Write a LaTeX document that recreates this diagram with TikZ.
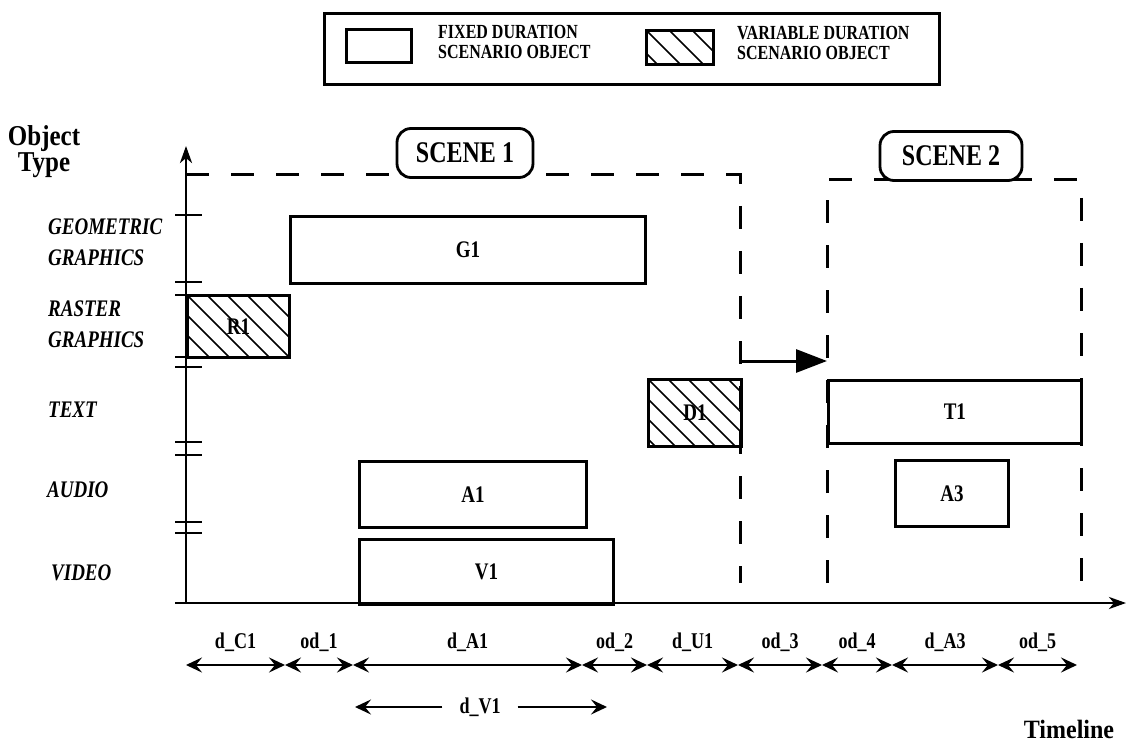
\documentclass[tikz,border=0pt]{standalone}
\usepackage{fontspec}
\setmainfont{Liberation Serif}
\usetikzlibrary{arrows.meta,calc}
\newcommand{\myfs}[2]{\fontsize{#1}{#2}\selectfont}
\newcommand{\tall}[1]{\scalebox{1}[1.25]{#1}}
\newcommand{\tallii}[2]{\scalebox{1}[1.25]{\begin{tabular}{@{}l@{}}#1\\#2\end{tabular}}}
\begin{document}
\begin{tikzpicture}[x=1pt,y=-1pt,
  obj/.style={draw, line width=2.8pt, inner sep=0pt, anchor=north west, font=\bfseries\myfs{19}{19}},
  hatched/.style={obj, path picture={
      \foreach \k in {-7,...,8}{
        \draw[line width=1.6pt] ([xshift=\k*20pt]path picture bounding box.north west) -- ++(110pt,-110pt);
      }}},
  lhatched/.style={obj, path picture={
      \foreach \k in {-4,...,4}{
        \draw[line width=1.6pt] ([xshift=\k*23pt]path picture bounding box.north west) -- ++(60pt,-60pt);
      }}},
  scenelabel/.style={draw, line width=2.8pt, rounded corners=14pt, fill=white, minimum height=49pt, font=\bfseries\myfs{24}{24}},
  dashframe/.style={line width=3pt, dash pattern=on 23pt off 22pt},
  axis/.style={line width=2.8pt, -{Stealth[length=17pt,width=12pt,inset=5pt]}},
  tick/.style={line width=2.8pt},
  dim/.style={line width=2.8pt, {Stealth[length=16pt,width=15pt,inset=6pt]}-{Stealth[length=16pt,width=15pt,inset=6pt]}},
  sarrow/.style={line width=2.8pt, -{Stealth[length=16pt,width=15pt,inset=6pt]}},
  bigarrow/.style={line width=3pt, -{Triangle[length=31pt,width=23pt]}},
  dimlabel/.style={font=\bfseries\myfs{18}{18}, inner sep=1pt},
  typelabel/.style={anchor=west, align=left, inner sep=0pt, font=\bfseries\itshape\myfs{19}{25}},
  legtext/.style={anchor=west, align=left, inner sep=0pt, font=\bfseries\myfs{16}{16}}
]
\useasboundingbox (0,0) rectangle (1127,743);

% legend
\node[draw, line width=2.8pt, anchor=north west, minimum width=615pt, minimum height=71pt, inner sep=0pt] (legend) at (323,12) {};
\node[obj, minimum width=65pt, minimum height=33pt] (legfix) at (345,28) {};
\node[legtext] (legfixtxt) at (438,45) {\tallii{FIXED DURATION}{SCENARIO OBJECT}};
\node[lhatched, minimum width=67pt, minimum height=34pt] (legvar) at (645,29) {};
\node[legtext] (legvartxt) at (737,46) {\tallii{VARIABLE DURATION}{SCENARIO OBJECT}};

% axis title and type labels
\node[align=center, inner sep=0pt, font=\bfseries\myfs{25}{21}] (otype) at (44,152) {\scalebox{1}[1.15]{\begin{tabular}{@{}c@{}}Object\\Type\end{tabular}}};
\node[typelabel] (lgeo) at (48,244) {\tallii{GEOMETRIC}{GRAPHICS}};
\node[typelabel] (lras) at (48,326) {\tallii{RASTER}{GRAPHICS}};
\node[typelabel] (ltext) at (48,410) {\tall{TEXT}};
\node[typelabel] (laudio) at (47,490) {\tall{AUDIO}};
\node[typelabel] (lvideo) at (51,573) {\tall{VIDEO}};

% scene frames
\draw[dashframe] (186,175) -- (740,175) -- (740,583);
\draw[dashframe] (827,583) -- (827,180) -- (1081,180) -- (1081,583);
\node[scenelabel, minimum width=136pt] (scene1) at (465,153) {\tall{SCENE 1}};
\node[scenelabel, minimum width=142pt] (scene2) at (951,156) {\tall{SCENE 2}};

% axes
\coordinate (O) at (186,603);
\coordinate (ytop) at (186,146);
\coordinate (xstart) at (175,603);
\coordinate (xend) at (1126,603);
\draw[axis] (O) -- (ytop);
\draw[axis] (xstart) -- (xend);
\foreach \yy in {215,282,295,357,367,442,455,522,533}
  \draw[tick] (175,\yy) -- (202,\yy);

% objects
\node[obj, minimum width=355pt, minimum height=67pt] (G1) at (289,215) {\tall{G1}};
\node[hatched, minimum width=102pt, minimum height=62pt] (R1) at (186,294) {\tall{R1}};
\node[hatched, minimum width=93pt, minimum height=67pt] (D1) at (647,378) {\tall{D1}};
\node[obj, minimum width=253pt, minimum height=63pt] (T1) at (827,379) {\tall{T1}};
\node[obj, minimum width=227pt, minimum height=66pt] (A1) at (358,460) {\tall{A1}};
\node[obj, minimum width=113pt, minimum height=66pt] (A3) at (894,459) {\tall{A3}};
\node[obj, minimum width=254pt, minimum height=65pt] (V1) at (358,538) {\tall{V1}};

% scene transition arrow
\coordinate (s1r) at (740,361);
\coordinate (s2l) at (827,361);
\draw[bigarrow] (s1r) -- (s2l);

% duration arrows
\foreach \n/\xx in {0/186,1/285,2/353,3/582,4/647,5/738,6/822,7/892,8/998,9/1077}
  \coordinate (d\n) at (\xx,665);
\foreach \a/\b/\t in {0/1/d\_C1,1/2/od\_1,2/3/d\_A1,3/4/od\_2,4/5/d\_U1,5/6/od\_3,6/7/od\_4,7/8/d\_A3,8/9/od\_5}
  \draw[dim] (d\a) -- node[dimlabel, midway, yshift=23pt] (L\a) {\tall{\t}} (d\b);

% d_V1
\node[dimlabel] (dV1) at (480,707) {\tall{d\_V1}};
\coordinate (v0) at (355,707);
\coordinate (v1) at (607,707);
\draw[sarrow, shorten <=16pt] (dV1.west) -- (v0);
\draw[sarrow, shorten <=16pt] (dV1.east) -- (v1);

% timeline label
\node[inner sep=0pt, font=\bfseries\myfs{24}{24}] (timeline) at (1069,729) {\scalebox{1}[1.1]{Timeline}};
\end{tikzpicture}
\end{document}
